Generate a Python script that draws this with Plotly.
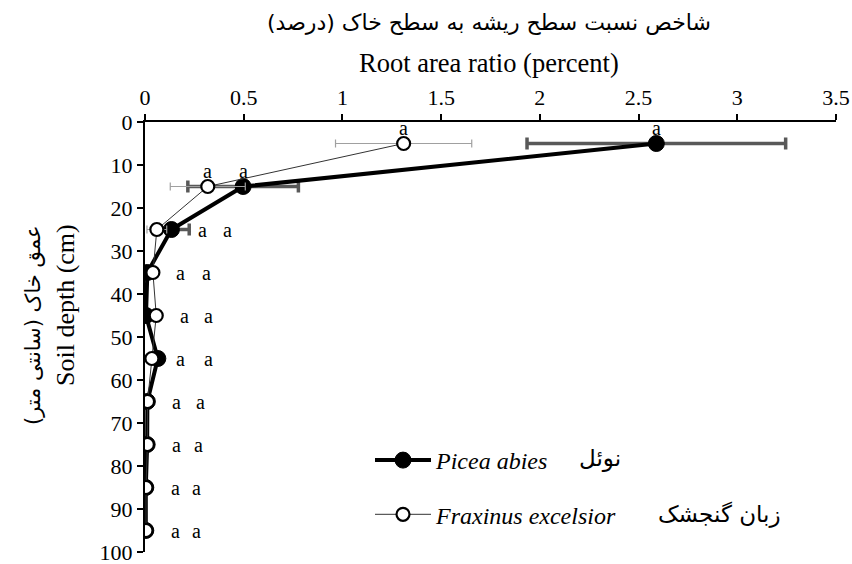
import plotly.graph_objects as go

depth = [5, 15, 25, 35, 45, 55, 65, 75, 85, 95]
picea = [2.59, 0.497, 0.134, 0.012, 0.005, 0.065, 0.012, 0.011, 0.004, 0.004]
picea_err = [0.655, 0.28, 0.09, 0.01, 0.01, 0.01, 0.005, 0.005, 0.003, 0.003]
fraxinus = [1.31, 0.318, 0.06, 0.04, 0.057, 0.035, 0.013, 0.012, 0.005, 0.005]
fraxinus_err = [0.345, 0.19, 0.05, 0.01, 0.01, 0.01, 0.005, 0.005, 0.003, 0.003]
letters_picea = ["a"] * 10
letters_fraxinus = ["a"] * 10
x_ticks = [0, 0.5, 1, 1.5, 2, 2.5, 3, 3.5]
x_ticktext = ["0", "0.5", "1", "1.5", "2", "2.5", "3", "3.5"]
y_ticks = [0, 10, 20, 30, 40, 50, 60, 70, 80, 90, 100]
# label x positions (data units) for the significance letters
lab_x_frax = [1.31, 0.318, 0.29, 0.18, 0.20, 0.18, 0.16, 0.16, 0.152, 0.152]
lab_x_picea = [2.59, 0.497, 0.42, 0.31, 0.32, 0.32, 0.28, 0.27, 0.263, 0.263]

FONT = "Liberation Serif, DejaVu Sans"
PFONT = "DejaVu Sans"

fig = go.Figure()
fig.add_trace(go.Scatter(
    x=picea, y=depth, mode="lines+markers", name="<i>Picea abies</i>",
    legendgroup="p",
    line=dict(color="black", width=4),
    marker=dict(symbol="circle", size=16, color="black", line=dict(color="black", width=1)),
    error_x=dict(type="data", array=picea_err, color="#595959", thickness=3.5, width=6),
))
fig.add_trace(go.Scatter(
    x=fraxinus, y=depth, mode="lines+markers", name="<i>Fraxinus excelsior</i>",
    legendgroup="f",
    line=dict(color="#333333", width=1),
    marker=dict(symbol="circle", size=13, color="white", line=dict(color="black", width=2.2)),
    error_x=dict(type="data", array=fraxinus_err, color="#a0a0a0", thickness=1.2, width=4),
))

ann = []
for i, d in enumerate(depth):
    shift = 16 if i < 2 else 0
    for xv, t in ((lab_x_frax[i], letters_fraxinus[i]), (lab_x_picea[i], letters_picea[i])):
        ann.append(dict(x=xv, y=d, text=t, showarrow=False, yshift=shift,
                        font=dict(size=20, family=FONT, color="black")))

W_PLOT = 691.0
H_PLOT = 430.0
def px(xp):
    return (xp - 145) / W_PLOT
def py(yp):
    return (552 - yp) / H_PLOT

def pann(x, y, text, size, family, angle=0, xanchor="center"):
    return dict(xref="paper", yref="paper", x=px(x), y=py(y), text=text, textangle=angle,
                xanchor=xanchor, yanchor="middle", showarrow=False,
                font=dict(size=size, family=family, color="black"))

ann += [
    pann(489, 23, "شاخص نسبت سطح ریشه به سطح خاک (درصد)", 22, PFONT),
    pann(489, 63, "Root area ratio (percent)", 26.5, FONT),
    pann(65, 305, "Soil depth (cm)", 26, FONT, angle=-90),
    pann(33, 325, "عمق خاک (سانتی متر)", 21, PFONT, angle=-90),
    pann(623, 458, "نوئل", 23, PFONT, xanchor="right"),
    pann(783, 514, "زبان گنجشک", 23, PFONT, xanchor="right"),
]

fig.update_layout(
    width=852, height=564,
    margin=dict(l=145, r=16, t=122, b=12, autoexpand=False),
    paper_bgcolor="white", plot_bgcolor="white",
    font=dict(family=FONT, size=22, color="black"),
    showlegend=True,
    legend=dict(x=px(370), y=py(438), xanchor="left", yanchor="top",
                bgcolor="rgba(0,0,0,0)", font=dict(size=24, family=FONT),
                tracegroupgap=20, itemwidth=56),
    annotations=ann,
)
fig.update_xaxes(side="top", range=[0, 3.5], tickmode="array", tickvals=x_ticks, ticktext=x_ticktext,
                 showgrid=False, zeroline=False, ticklabeloverflow="allow", automargin=False,
                 showline=True, linecolor="black", linewidth=2, ticks="outside", ticklen=6,
                 tickwidth=2, tickcolor="black", tickfont=dict(size=22, family=FONT))
fig.update_yaxes(range=[100, 0], tickmode="array", tickvals=y_ticks, showgrid=False, zeroline=False,
                 ticklabeloverflow="allow", automargin=False,
                 showline=True, linecolor="black", linewidth=2, ticks="outside", ticklen=6,
                 tickwidth=2, tickcolor="black", tickfont=dict(size=22, family=FONT))

fig.write_html("out.html", config={"displayModeBar": False},
               post_script="document.body.style.margin='0';document.body.style.overflow='hidden';")
